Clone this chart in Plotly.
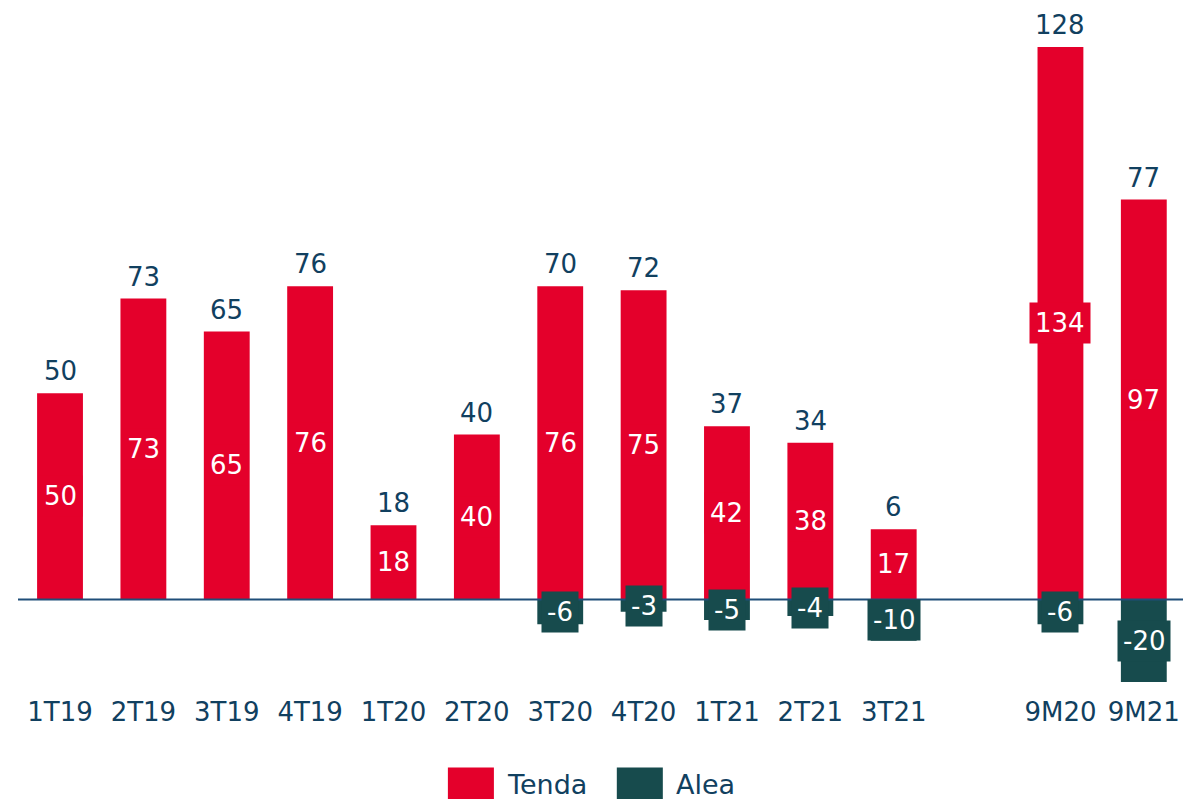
import plotly.graph_objects as go

categories = ["1T19", "2T19", "3T19", "4T19", "1T20", "2T20", "3T20", "4T20",
              "1T21", "2T21", "3T21", " ", "9M20", "9M21"]
tenda = [50, 73, 65, 76, 18, 40, 76, 75, 42, 38, 17, None, 134, 97]
alea = [None, None, None, None, None, None, -6, -3, -5, -4, -10, None, -6, -20]
totals = [50, 73, 65, 76, 18, 40, 70, 72, 37, 34, 6, None, 128, 77]

RED = "#E4002B"
TEAL = "#174B4D"
NAVY = "#11405F"
FONT = "DejaVu Sans"

fig = go.Figure()
fig.add_trace(go.Bar(x=categories, y=tenda, name="Tenda", marker_color=RED,
                     marker_line_width=0, hoverinfo="skip"))
fig.add_trace(go.Bar(x=categories, y=alea, name="Alea", marker_color=TEAL,
                     marker_line_width=0, hoverinfo="skip"))

annotations = []
for c, t, a, tot in zip(categories, tenda, alea, totals):
    if t is not None:
        annotations.append(dict(x=c, y=t / 2, xref="x", yref="y", text=str(t),
                                showarrow=False, bgcolor=RED, borderpad=5,
                                font=dict(family=FONT, size=26, color="white")))
    if a is not None:
        annotations.append(dict(x=c, y=a / 2, xref="x", yref="y", text=str(a).replace("-", "‑"),
                                showarrow=False, bgcolor=TEAL, borderpad=5,
                                font=dict(family=FONT, size=26, color="white")))
    if tot is not None:
        annotations.append(dict(x=c, y=max(t or 0, 0), xref="x", yref="y", text=str(tot),
                                showarrow=False, yanchor="bottom", yshift=5,
                                font=dict(family=FONT, size=26, color=NAVY)))

# custom legend (large swatches)
legend_items = [("Tenda", RED, 0.369), ("Alea", TEAL, 0.514)]
shapes = [dict(type="line", xref="paper", yref="y", x0=0, x1=1, y0=0, y1=0,
               line=dict(color="#1F4E79", width=2), layer="above")]
for name, col, x0 in legend_items:
    shapes.append(dict(type="rect", xref="paper", yref="paper", x0=x0, x1=x0 + 0.0395,
                       y0=-0.168, y1=-0.1205, fillcolor=col, line_width=0))
    annotations.append(dict(x=x0 + 0.049, y=-0.146, xref="paper", yref="paper", text=name,
                            showarrow=False, xanchor="left", yanchor="middle",
                            font=dict(family=FONT, size=27, color=NAVY)))

fig.update_layout(
    width=1183, height=799,
    barmode="relative", bargap=0.45,
    plot_bgcolor="white", paper_bgcolor="white",
    margin=dict(l=18, r=0, t=10, b=113),
    showlegend=False,
    font=dict(family=FONT, color=NAVY),
    annotations=annotations, shapes=shapes,
    xaxis=dict(type="category", categoryorder="array", categoryarray=categories,
               range=[-0.504, 13.47],
               showline=False, showgrid=False, ticks="", ticklabelstandoff=8,
               tickfont=dict(family=FONT, size=26, color=NAVY)),
    yaxis=dict(range=[-21, 143], visible=False, showgrid=False, zeroline=False),
)

fig.write_html("out.html", config={"displayModeBar": False, "staticPlot": True},
               post_script="document.body.style.margin='0';document.body.style.overflow='hidden';")
